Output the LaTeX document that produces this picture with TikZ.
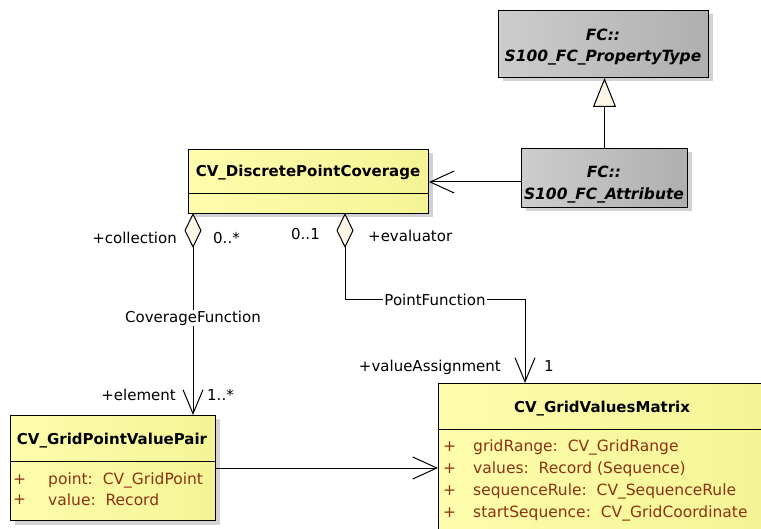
\documentclass[tikz,border=0pt]{standalone}
\usepackage{fontspec}
\setmainfont{DejaVu Sans}
\usetikzlibrary{arrows.meta,shadows,calc}
\definecolor{jaune}{RGB}{253,253,172}
\definecolor{jaunef}{RGB}{244,244,150}
\definecolor{gris}{RGB}{205,205,205}
\definecolor{grisf}{RGB}{175,175,175}
\definecolor{attrib}{RGB}{140,50,20}
\definecolor{losange}{RGB}{255,246,232}

\begin{document}
\begin{tikzpicture}[x=1pt,y=-1pt,
	classe/.style={draw,line width=1pt,inner sep=0pt,anchor=north west,left color=jaune,right color=jaunef,
		drop shadow={shadow xshift=4pt,shadow yshift=-4pt,fill=black!35}},
	classefc/.style={classe,left color=gris,right color=grisf},
	titre/.style={font=\bfseries\fontsize{15}{17}\selectfont,inner sep=1pt},
	titrefc/.style={font=\bfseries\itshape\fontsize{15.5}{17}\selectfont,inner sep=1pt},
	etiq/.style={font=\fontsize{15}{17}\selectfont,inner sep=1pt},
	attr/.style={font=\fontsize{15.5}{17}\selectfont,text=attrib,anchor=west,inner sep=0pt},
	assoc/.style={line width=1pt,-{Straight Barb[length=24pt,width=22pt]}},
	agreg/.style={line width=1pt,{Diamond[fill=losange,length=35pt,width=17pt]}-{Straight Barb[length=24pt,width=20pt]}},
	gen/.style={line width=1pt,-{Triangle[fill=losange,length=29pt,width=23pt]}}]
				\useasboundingbox (0,0) rectangle (761,529);
				\fill[white] (0,0) rectangle (761,529);
				\clip (0,0) rectangle (761,529);
				% Classes FC
				\node[classefc,minimum width=210,minimum height=67] (ptype) at (498,10) {};
				\node[titrefc] (ptype-a) at (603,35) {FC::};
				\node[titrefc] (ptype-b) at (603,58) {S100\_FC\_PropertyType};
				\node[classefc,minimum width=166,minimum height=59] (fcattr) at (521,148) {};
				\node[titrefc] (fcattr-a) at (604,172) {FC::};
				\node[titrefc] (fcattr-b) at (604,195) {S100\_FC\_Attribute};
				% Classes CV
				\node[classe,minimum width=240,minimum height=64] (dpc) at (188,149) {};
				\draw[line width=1pt] (188,194) -- (428,194);
				\node[titre] (dpc-t) at (308,173) {CV\_DiscretePointCoverage};
				\node[classe,minimum width=205,minimum height=105] (gpvp) at (10,415) {};
				\draw[line width=1pt] (10,461) -- (215,461);
				\node[titre] (gpvp-t) at (112,441) {CV\_GridPointValuePair};
				\node[attr] (gpvp-p1) at (13,480) {+};
				\node[attr] (gpvp-a1) at (48,480) {point:\ \ CV\_GridPoint};
				\node[attr] (gpvp-p2) at (13,500) {+};
				\node[attr] (gpvp-a2) at (48,500) {value:\ \ Record};
				\node[classe,minimum width=328,minimum height=165] (gvm) at (438,383) {};
				\draw[line width=1pt] (438,430) -- (766,430);
				\node[titre] (gvm-t) at (602,409) {CV\_GridValuesMatrix};
				\foreach \y/\t [count=\i] in {447/gridRange:\ \ CV\_GridRange,469/values:\ \ Record (Sequence),491/sequenceRule:\ \ CV\_SequenceRule,513/startSequence:\ \ CV\_GridCoordinate}{
					\node[attr] (gvm-p\i) at (443,\y) {+};
					\node[attr] (gvm-a\i) at (473,\y) {\t};
				}
				% Liens
				\draw[gen] (fcattr.north) -- (fcattr.north |- ptype.south);
				\draw[assoc] ([yshift=-4pt]fcattr.west) -- ([yshift=-4pt]fcattr.west -| dpc.east);
				\draw[assoc] (gpvp.east) -- (gpvp.east -| gvm.west);
				\coordinate (col) at (193,213);
				\draw[agreg] (col) -- node[etiq,fill=white,pos=.52] (cf) {CoverageFunction} (col |- gpvp.north);
				\coordinate (eva) at (345,213);
				\coordinate (pf) at (525,300);
				\draw[agreg] (eva) -- (eva |- pf) -- node[etiq,fill=white] (pfl) {PointFunction} (pf) -- (pf |- gvm.north);
				% Rôles
				\node[etiq,anchor=east] (r-col) at (178,238) {+collection};
				\node[etiq,anchor=west] (m-col) at (212,238) {0..*};
				\node[etiq,anchor=east] (m-eva) at (321,234) {0..1};
				\node[etiq,anchor=west] (r-eva) at (367,236) {+evaluator};
				\node[etiq,anchor=east] (r-va) at (502,367) {+valueAssignment};
				\node[etiq,anchor=west] (m-va) at (543,366) {1};
				\node[etiq,anchor=east] (r-el) at (177,395) {+element};
				\node[etiq,anchor=west] (m-el) at (206,395) {1..*};
\end{tikzpicture}
\end{document}
